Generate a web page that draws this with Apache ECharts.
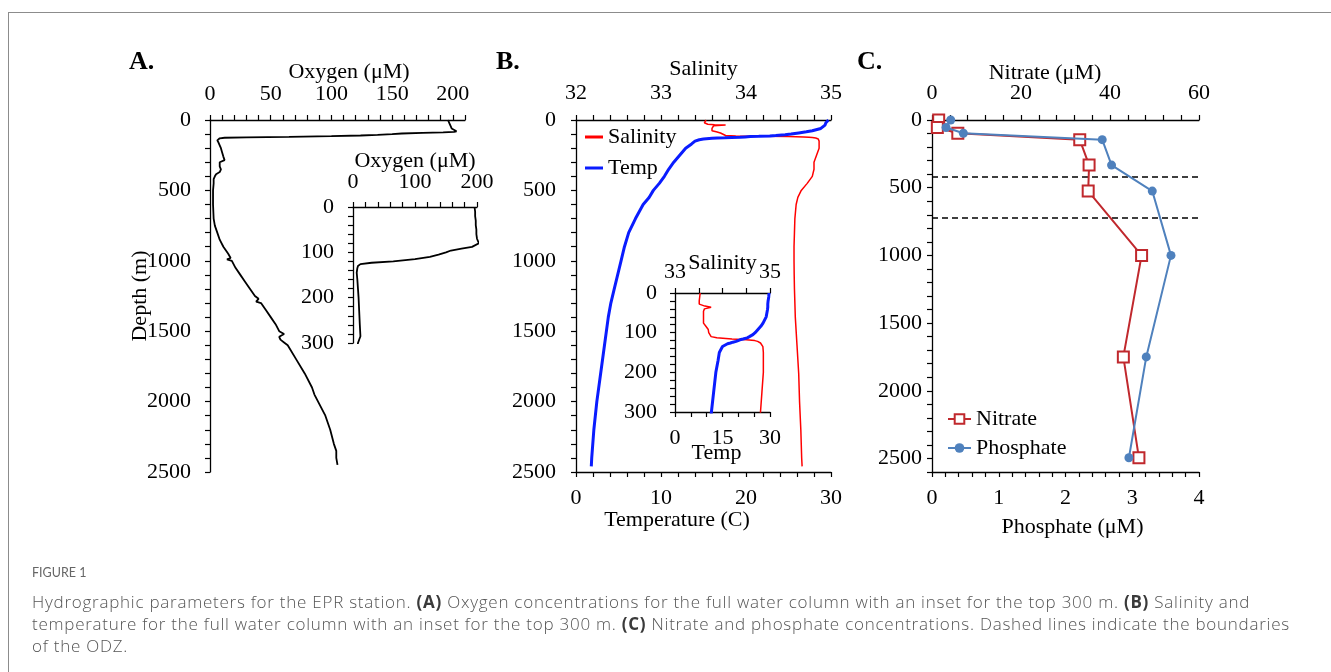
<!DOCTYPE html>
<html>
<head>
<meta charset="utf-8">
<script src="https://cdn.jsdelivr.net/npm/echarts@6/dist/echarts.min.js"></script>
<style>
  html, body { margin: 0; padding: 0; background: #fff; }
  body { width: 1331px; height: 672px; position: relative; overflow: hidden; }
  #frame { position: absolute; left: 8px; top: 12px; width: 1400px; height: 700px;
           border-top: 1.5px solid #8c8c8c; border-left: 1.5px solid #8c8c8c; }
  #chart { position: absolute; left: 0; top: 0; width: 1331px; height: 672px; }
  .cap { position: absolute; left: 32px; white-space: nowrap; font-family: "Open Sans", sans-serif; color: #555; }
  .cap b { color: #3a3a3a; font-weight: 700; }
  #figno { top: 565px; font-size: 12.5px; line-height: 16px; color: #666; font-family: Lato, sans-serif; }
  #captext { top: 591px; font-size: 17px; line-height: 22px; font-weight: 300; letter-spacing: 0.75px; }
</style>
</head>
<body>
<div id="frame"></div>
<div id="chart"></div>
<div id="figno" class="cap">FIGURE 1</div>
<div id="captext" class="cap">
  <div>Hydrographic parameters for the EPR station. <b>(A)</b> Oxygen concentrations for the full water column with an inset for the top 300 m. <b>(B)</b> Salinity and</div>
  <div>temperature for the full water column with an inset for the top 300 m. <b>(C)</b> Nitrate and phosphate concentrations. Dashed lines indicate the boundaries</div>
  <div>of the ODZ.</div>
</div>
<script>
// ---- data ----
// (A) oxygen profile
const o2Depth = [0, 10, 20, 30, 40, 50, 60, 70, 80, 84, 88, 92, 96, 100, 105, 110, 115, 120, 123, 126, 130, 135, 145, 160, 180, 200, 230, 260, 285, 300, 310, 330, 350, 370, 385, 400, 420, 450, 500, 600, 700, 750, 800, 850, 900, 950, 980, 990, 1000, 1050, 1100, 1150, 1200, 1250, 1270, 1290, 1300, 1350, 1400, 1450, 1500, 1520, 1540, 1560, 1580, 1600, 1700, 1800, 1900, 1950, 2000, 2050, 2100, 2200, 2300, 2350, 2400, 2450];
const o2Value = [196, 197, 197, 198, 198, 199, 199, 200, 203, 201, 192, 175, 158, 150, 138, 124, 100, 65, 30, 12, 8, 7, 6, 7, 8, 9, 10, 11, 12, 8, 7, 8, 9, 8, 5, 4, 3, 3, 2.5, 2.5, 3, 4, 6, 8, 11, 15, 17, 14, 18, 21, 25, 29, 33, 37, 40, 38, 42, 46, 50, 54, 57, 61, 57, 58, 61, 64, 71, 78, 84, 86, 89, 92, 95, 99, 102, 104, 104, 105];

// (B) CTD profile
const ctdDepth = [0, 5, 10, 20, 28, 30, 33, 36, 38, 40, 42, 46, 60, 76, 84, 92, 100, 105, 110, 113, 116, 118, 120, 122, 124, 126, 128, 130, 135, 140, 150, 170, 200, 250, 300, 350, 400, 450, 500, 550, 600, 700, 800, 900, 1000, 1100, 1200, 1300, 1400, 1600, 1800, 2000, 2200, 2400, 2460];
const salinity = [33.53, 33.53, 33.52, 33.51, 33.51, 33.55, 33.63, 33.76, 33.74, 33.62, 33.6, 33.6, 33.6, 33.6, 33.65, 33.7, 33.71, 33.72, 33.76, 33.88, 34.2, 34.5, 34.68, 34.74, 34.78, 34.8, 34.82, 34.83, 34.85, 34.86, 34.86, 34.86, 34.86, 34.83, 34.8, 34.8, 34.78, 34.72, 34.65, 34.61, 34.59, 34.575, 34.57, 34.565, 34.565, 34.567, 34.57, 34.575, 34.58, 34.6, 34.62, 34.63, 34.645, 34.655, 34.66];
const temperature = [29.7, 29.7, 29.6, 29.4, 29.3, 29.3, 29.3, 29.3, 29.2, 29.2, 29.2, 29.2, 28.8, 27.8, 27.1, 26.2, 25.3, 24.6, 23.5, 22.8, 21.5, 20.5, 19.9, 19.3, 18.3, 17.5, 16.6, 16.0, 15.0, 14.5, 14.0, 13.6, 12.9, 12.2, 11.5, 10.9, 10.4, 9.8, 9.1, 8.6, 7.9, 7.0, 6.2, 5.7, 5.3, 4.9, 4.5, 4.1, 3.8, 3.35, 2.9, 2.45, 2.1, 1.85, 1.8];

// (C) bottle samples
const sampleDepth = [0, 55, 98, 145, 333, 525, 1000, 1750, 2495];
const nitrate = [1.5, 1.2, 5.8, 33.2, 35.3, 35.1, 47.1, 43.0, 46.5];
const phosphate = [0.28, 0.21, 0.47, 2.55, 2.69, 3.30, 3.58, 3.21, 2.95];
const odzBounds = [420, 720];

const insetSalLabels = [33, 35];

const serif = "'Liberation Serif', 'Times New Roman', serif";

function pairs(xs, ys) {
  return xs.map((x, i) => [x, ys[i]]);
}

function everyN(n) {
  return function (v) {
    const r = Math.round(v / n) * n;
    return Math.abs(v - r) < 1e-6 ? String(Math.round(r * 100) / 100) : '';
  };
}

function only(list) {
  return v => list.some(t => Math.abs(t - v) < 1e-6) ? String(v) : '';
}

function xAx(grid, pos, min, max, step, fmt, name, o) {
  o = o || {};
  return {
    type: 'value', gridIndex: grid, position: pos, min: min, max: max, interval: step,
    name: name, nameLocation: 'middle', nameGap: o.nameGap || 36, nameMoveOverlap: false,
    nameTextStyle: { fontFamily: serif, fontSize: 22, color: '#000', padding: o.namePad || 0 },
    axisLine: { onZero: false, lineStyle: { color: '#000', width: 1.3 } },
    axisTick: { length: 5, lineStyle: { color: '#000', width: 1.2 } },
    axisLabel: { formatter: fmt, margin: o.margin || 16, fontFamily: serif, fontSize: 22, color: '#000' },
    splitLine: { show: false }
  };
}

function yAx(grid, max, step, fmt, o) {
  o = o || {};
  return {
    type: 'value', gridIndex: grid, inverse: true, min: 0, max: max, interval: step,
    name: o.name || '', nameLocation: 'middle', nameGap: o.nameGap || 60, nameRotate: 90,
    nameMoveOverlap: false,
    nameTextStyle: { fontFamily: serif, fontSize: 22, color: '#000' },
    axisLine: { onZero: false, lineStyle: { color: '#000', width: 1.3 } },
    axisTick: { length: 5, lineStyle: { color: '#000', width: 1.2 } },
    axisLabel: { formatter: fmt, margin: o.margin || 19, fontFamily: serif, fontSize: 22, color: '#000' },
    splitLine: { show: false }
  };
}

const chart = echarts.init(document.getElementById('chart'));
chart.setOption({
  animation: false,
  backgroundColor: 'transparent',
  grid: [
    { left: 210, top: 120, width: 255, height: 352 },   // A
    { left: 353, top: 207, width: 124, height: 136 },   // A inset
    { left: 576, top: 120, width: 255, height: 352 },   // B
    { left: 675, top: 293, width: 95, height: 119 },    // B inset
    { left: 932, top: 120, width: 267, height: 352 }    // C
  ],
  xAxis: [
    xAx(0, 'top', 0, 210, 10, everyN(50), 'Oxygen (\u03bcM)', { nameGap: 37, margin: 15, namePad: [0, 0, 0, 23] }),
    xAx(1, 'top', 0, 200, 20, everyN(100), 'Oxygen (\u03bcM)', { nameGap: 35, margin: 14 }),
    xAx(2, 'top', 32, 35, 0.2, everyN(1), 'Salinity', { nameGap: 40 }),
    xAx(2, 'bottom', 0, 30, 2, everyN(10), 'Temperature (C)', { nameGap: 37, margin: 15, namePad: [0, 53, 0, 0] }),
    xAx(3, 'top', 33, 35, 0.5, only(insetSalLabels), 'Salinity', { nameGap: 19, margin: 10 }),
    xAx(3, 'bottom', 0, 30, 5, everyN(15), 'Temp', { nameGap: 30, margin: 15, namePad: [0, 12, 0, 0] }),
    xAx(4, 'top', 0, 60, 4, everyN(20), 'Nitrate (\u03bcM)', { nameGap: 36, namePad: [0, 41, 0, 0] }),
    xAx(4, 'bottom', 0, 4, 0.2, everyN(1), 'Phosphate (\u03bcM)', { nameGap: 44, margin: 15, namePad: [0, 0, 0, 14] })
  ],
  yAxis: [
    yAx(0, 2500, 100, everyN(500), { name: 'Depth (m)', nameGap: 59, margin: 19 }),
    yAx(1, 300, 20, everyN(100), { margin: 19 }),
    yAx(2, 2500, 100, everyN(500), { margin: 20 }),
    yAx(3, 300, 20, everyN(100), { margin: 18 }),
    yAx(4, 2600, 100, everyN(500), { margin: 10 })
  ],
  legend: [
    {
      data: [{ name: 'Salinity', icon: 'rect' }, { name: 'Temp', icon: 'rect' }],
      orient: 'vertical', left: 580, top: 121, itemWidth: 18, itemHeight: 3, itemGap: 9,
      textStyle: { fontFamily: serif, fontSize: 22, color: '#000', lineHeight: 22 }
    },
    {
      data: ['Nitrate', 'Phosphate'],
      orient: 'vertical', left: 942, top: 403, itemWidth: 23, itemHeight: 12, itemGap: 7,
      textStyle: { fontFamily: serif, fontSize: 22, color: '#000', lineHeight: 22 }
    }
  ],
  graphic: [
    { type: 'text', left: 129, top: 49, style: { text: 'A.', font: 'bold 26px ' + serif, fill: '#000' } },
    { type: 'text', left: 496, top: 49, style: { text: 'B.', font: 'bold 26px ' + serif, fill: '#000' } },
    { type: 'text', left: 857, top: 49, style: { text: 'C.', font: 'bold 26px ' + serif, fill: '#000' } }
  ],
  series: [
    {
      name: 'Oxygen', type: 'line', xAxisIndex: 0, yAxisIndex: 0, symbol: 'none',
      data: pairs(o2Value, o2Depth), lineStyle: { color: '#000', width: 1.8 }
    },
    {
      name: 'Oxygen inset', type: 'line', xAxisIndex: 1, yAxisIndex: 1, symbol: 'none',
      data: pairs(o2Value, o2Depth), lineStyle: { color: '#000', width: 1.8 }
    },
    {
      name: 'Salinity', type: 'line', xAxisIndex: 2, yAxisIndex: 2, symbol: 'none',
      data: pairs(salinity, ctdDepth), color: '#ff0000', lineStyle: { color: '#ff0000', width: 1.5 }
    },
    {
      name: 'Temp', type: 'line', xAxisIndex: 3, yAxisIndex: 2, symbol: 'none',
      data: pairs(temperature, ctdDepth), color: '#0a1cff', lineStyle: { color: '#0a1cff', width: 3 }
    },
    {
      name: 'Salinity', type: 'line', xAxisIndex: 4, yAxisIndex: 3, symbol: 'none',
      data: pairs(salinity, ctdDepth), color: '#ff0000', lineStyle: { color: '#ff0000', width: 1.5 }
    },
    {
      name: 'Temp', type: 'line', xAxisIndex: 5, yAxisIndex: 3, symbol: 'none',
      data: pairs(temperature, ctdDepth), color: '#0a1cff', lineStyle: { color: '#0a1cff', width: 3 }
    },
    {
      name: 'Nitrate', type: 'line', xAxisIndex: 6, yAxisIndex: 4, z: 3,
      symbol: 'emptyRect', symbolSize: 11,
      data: pairs(nitrate, sampleDepth), color: '#c0282d',
      lineStyle: { color: '#c0282d', width: 2 },
      itemStyle: { color: '#c0282d', borderColor: '#c0282d', borderWidth: 1.6 },
      markLine: {
        silent: true, symbol: 'none', label: { show: false }, z: 1,
        lineStyle: { color: '#000', type: [6, 4], width: 1.6 },
        data: odzBounds.map(d => ({ yAxis: d }))
      }
    },
    {
      name: 'Phosphate', type: 'line', xAxisIndex: 7, yAxisIndex: 4, z: 4,
      symbol: 'circle', symbolSize: 9,
      data: pairs(phosphate, sampleDepth), color: '#4f81bd',
      lineStyle: { color: '#4f81bd', width: 2 },
      itemStyle: { color: '#4f81bd' }
    }
  ]
});
</script>
</body>
</html>
